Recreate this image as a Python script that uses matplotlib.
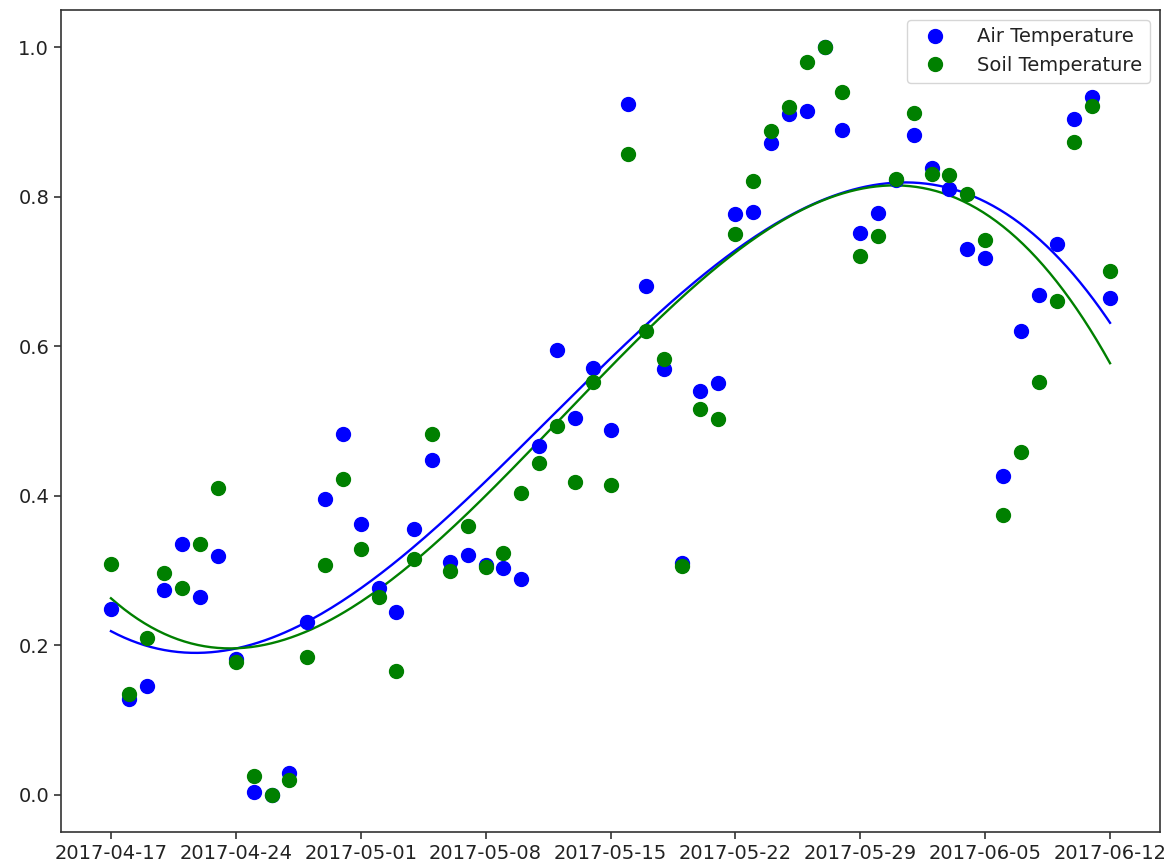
import numpy as np
import pandas as pd
import matplotlib
matplotlib.use("Agg")
import matplotlib.pyplot as plt
import matplotlib.dates as mdates

# Daily normalised temperatures, 2017-04-17 .. 2017-06-12
start_date = "2017-04-17"
n_days = 57

air_temperature = [
    0.248, 0.128, 0.146, 0.274, 0.336, 0.264, 0.319, 0.181, 0.004, 0.000,
    0.029, 0.231, 0.396, 0.483, 0.362, 0.277, 0.244, 0.356, 0.448, 0.311,
    0.321, 0.307, 0.303, 0.289, 0.466, 0.595, 0.504, 0.571, 0.488, 0.924,
    0.680, 0.569, 0.310, 0.540, 0.551, 0.777, 0.780, 0.872, 0.911, 0.915,
    1.000, 0.889, 0.752, 0.779, 0.822, 0.883, 0.838, 0.811, 0.730, 0.718,
    0.426, 0.621, 0.669, 0.737, 0.904, 0.933, 0.664,
]

soil_temperature = [
    0.309, 0.135, 0.209, 0.296, 0.276, 0.336, 0.411, 0.177, 0.025, 0.000,
    0.019, 0.184, 0.307, 0.423, 0.329, 0.265, 0.166, 0.315, 0.483, 0.299,
    0.360, 0.305, 0.323, 0.404, 0.444, 0.493, 0.419, 0.552, 0.414, 0.857,
    0.620, 0.583, 0.306, 0.516, 0.503, 0.750, 0.821, 0.888, 0.920, 0.981,
    1.000, 0.940, 0.721, 0.748, 0.824, 0.912, 0.831, 0.829, 0.804, 0.742,
    0.374, 0.458, 0.552, 0.661, 0.874, 0.922, 0.701,
]

# Cubic trend lines, sampled weekly (day offsets from the start date)
trend_days = [0, 7, 14, 21, 28, 35, 42, 49, 56]
air_trend = [0.219, 0.1995, 0.267, 0.420, 0.587, 0.736, 0.807, 0.788, 0.635]
soil_trend = [0.263, 0.198, 0.252, 0.403, 0.571, 0.733, 0.805, 0.776, 0.579]

series = [
    ("Air Temperature", air_temperature, air_trend, "blue"),
    ("Soil Temperature", soil_temperature, soil_trend, "green"),
]
trend_degree = 3

dates = pd.date_range(start_date, periods=n_days, freq="D")
fine_days = np.linspace(0, n_days - 1, 300)
fine_dates = dates[0] + pd.to_timedelta(fine_days, unit="D")

fig = plt.figure(figsize=(11.75, 8.67), dpi=100)
ax = fig.add_axes([61 / 1175, 1 - 832 / 867, (1160 - 61) / 1175, (832 - 10) / 867])

for label, values, trend, color in series:
    coeffs = np.polyfit(trend_days, trend, trend_degree)
    ax.plot(fine_dates, np.polyval(coeffs, fine_days), color=color,
            linewidth=1.7, zorder=2)

for label, values, trend, color in series:
    ax.plot(dates, values, "o", color=color, markersize=10, label=label,
            zorder=3)

ax.xaxis.set_major_locator(mdates.WeekdayLocator(byweekday=mdates.MO))
ax.xaxis.set_major_formatter(mdates.DateFormatter("%Y-%m-%d"))
ax.set_yticks([0.0, 0.2, 0.4, 0.6, 0.8, 1.0])

ax.tick_params(axis="both", labelsize=14, length=5, width=1.2,
               colors="#333333", labelcolor="#222222")
for spine in ax.spines.values():
    spine.set_linewidth(1.2)
    spine.set_edgecolor("#333333")

leg = ax.legend(loc="upper right", fontsize=14, numpoints=1,
                handletextpad=1.2)
for t in leg.get_texts():
    t.set_color("#222222")

fig.savefig("out.png", dpi=100)
